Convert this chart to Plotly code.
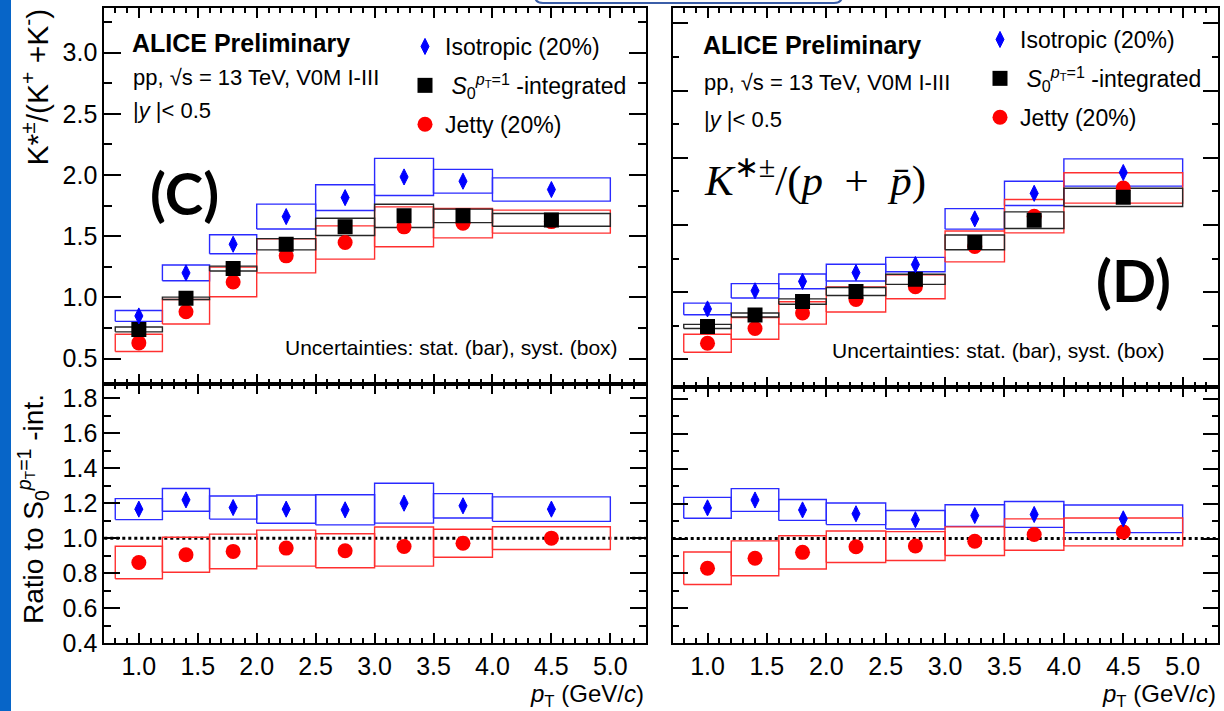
import plotly.graph_objects as go

W, H = 1224, 711

# transverse-momentum bins (GeV/c)
pt = [1.0, 1.4, 1.8, 2.25, 2.75, 3.25, 3.75, 4.5]
pt_lo = [0.8, 1.2, 1.6, 2.0, 2.5, 3.0, 3.5, 4.0]
pt_hi = [1.2, 1.6, 2.0, 2.5, 3.0, 3.5, 4.0, 5.0]

# ---- panel (C): K*±/(K+ + K-) ----
c_iso = [0.848, 1.200, 1.434, 1.660, 1.815, 1.984, 1.949, 1.881]
c_iso_syst = [0.044, 0.064, 0.078, 0.102, 0.105, 0.152, 0.097, 0.095]
c_iso_stat = [0.010, 0.012, 0.013, 0.015, 0.018, 0.022, 0.025, 0.022]
c_int = [0.738, 0.992, 1.235, 1.434, 1.576, 1.666, 1.666, 1.633]
c_int_syst = [0.020, 0.010, 0.020, 0.046, 0.070, 0.095, 0.055, 0.052]
c_int_stat = [0.004, 0.005, 0.006, 0.007, 0.009, 0.011, 0.013, 0.012]
c_jet = [0.628, 0.882, 1.126, 1.339, 1.448, 1.576, 1.606, 1.619]
c_jet_syst = [0.071, 0.100, 0.121, 0.139, 0.136, 0.163, 0.120, 0.094]
c_jet_stat = [0.009, 0.011, 0.012, 0.014, 0.017, 0.021, 0.024, 0.021]

c_iso_ratio = [1.166, 1.219, 1.175, 1.166, 1.162, 1.200, 1.185, 1.166]
c_iso_ratio_syst = [0.060, 0.065, 0.066, 0.081, 0.086, 0.114, 0.070, 0.070]
c_iso_ratio_stat = [0.012, 0.012, 0.011, 0.011, 0.012, 0.013, 0.015, 0.014]
c_jet_ratio = [0.861, 0.905, 0.924, 0.943, 0.928, 0.952, 0.971, 1.000]
c_jet_ratio_syst = [0.093, 0.100, 0.099, 0.103, 0.097, 0.112, 0.080, 0.065]
c_jet_ratio_stat = [0.012, 0.012, 0.011, 0.011, 0.012, 0.013, 0.015, 0.014]

# ---- panel (D): K*±/(p + pbar) ----
d_iso = [0.175, 0.202, 0.216, 0.229, 0.241, 0.309, 0.347, 0.378]
d_iso_syst = [0.0087, 0.0107, 0.0110, 0.0124, 0.0107, 0.0153, 0.0180, 0.0203]
d_iso_stat = [0.002, 0.002, 0.002, 0.003, 0.003, 0.004, 0.004, 0.004]
d_int = [0.149, 0.166, 0.186, 0.201, 0.219, 0.274, 0.307, 0.341]
d_int_syst = [0.003, 0.003, 0.004, 0.006, 0.0075, 0.0109, 0.0124, 0.0136]
d_int_stat = [0.001, 0.001, 0.001, 0.0015, 0.0015, 0.002, 0.002, 0.002]
d_jet = [0.124, 0.146, 0.169, 0.189, 0.208, 0.268, 0.313, 0.355]
d_jet_syst = [0.0134, 0.0160, 0.0166, 0.0186, 0.0179, 0.0230, 0.0248, 0.0226]
d_jet_stat = [0.002, 0.002, 0.002, 0.003, 0.003, 0.004, 0.004, 0.004]

d_iso_ratio = [1.176, 1.221, 1.164, 1.142, 1.108, 1.132, 1.138, 1.113]
d_iso_ratio_syst = [0.060, 0.065, 0.060, 0.062, 0.053, 0.062, 0.074, 0.079]
d_iso_ratio_stat = [0.012, 0.012, 0.011, 0.011, 0.012, 0.013, 0.015, 0.014]
d_jet_ratio = [0.830, 0.887, 0.921, 0.953, 0.957, 0.985, 1.023, 1.038]
d_jet_ratio_syst = [0.093, 0.100, 0.095, 0.090, 0.083, 0.082, 0.090, 0.080]
d_jet_ratio_stat = [0.012, 0.012, 0.011, 0.011, 0.012, 0.013, 0.015, 0.014]

LBL_ISO = "Isotropic (20%)"
LBL_INT = " <i>S</i><sub>0</sub><sup><i>p</i><sub>T</sub>=1</sup> -integrated"
LBL_JET = "Jetty (20%)"

BLUE, RED, BLACK = "#0000ff", "#ff0000", "#000000"
SANS = "Liberation Sans, Arial, Helvetica, sans-serif"


def px(x):
    return x / W


def py(y):
    return 1 - y / H


def box_path(lo, hi, val, err):
    xs, ys = [], []
    for a, b, v, e in zip(lo, hi, val, err):
        xs += [a, b, b, a, a, None]
        ys += [v - e, v - e, v + e, v + e, v - e, None]
    return xs, ys


fig = go.Figure()

SYMBOLS = {
    "circle": dict(symbol="circle", size=15, line=dict(width=0)),
    "square": dict(symbol="square", size=15, line=dict(width=0)),
    "diamond": dict(symbol="diamond-tall", size=11.5, line=dict(width=1)),
}


def add_boxes(val, err, color, xa, ya):
    xs, ys = box_path(pt_lo, pt_hi, val, err)
    fig.add_trace(go.Scatter(x=xs, y=ys, mode="lines", xaxis=xa, yaxis=ya,
                             line=dict(color=color, width=1.4),
                             hoverinfo="skip", showlegend=False))


def add_points(val, stat, color, kind, xa, ya, name=None, legend=None, rank=None):
    m = dict(SYMBOLS[kind])
    m["color"] = color
    m["line"] = dict(m["line"], color=color)
    fig.add_trace(go.Scatter(
        x=pt, y=val, mode="markers", xaxis=xa, yaxis=ya, marker=m,
        error_y=dict(type="data", array=stat, color=color, thickness=2, width=0),
        name=name, showlegend=name is not None,
        legend=legend, legendrank=rank, legendgroup=(legend or "") + (name or ""),
    ))


def upper_panel(iso, iso_s, iso_st, itg, itg_s, itg_st, jet, jet_s, jet_st, xa, ya, legend):
    add_boxes(iso, iso_s, "#2a2aff", xa, ya)
    add_boxes(jet, jet_s, "#ff3030", xa, ya)
    add_boxes(itg, itg_s, "#262626", xa, ya)
    add_points(jet, jet_st, RED, "circle", xa, ya, LBL_JET, legend, 3)
    add_points(itg, itg_st, BLACK, "square", xa, ya, LBL_INT, legend, 2)
    add_points(iso, iso_st, BLUE, "diamond", xa, ya, LBL_ISO, legend, 1)


def lower_panel(iso, iso_s, iso_st, jet, jet_s, jet_st, xa, ya):
    add_boxes(iso, iso_s, "#2a2aff", xa, ya)
    add_boxes(jet, jet_s, "#ff3030", xa, ya)
    add_points(jet, jet_st, RED, "circle", xa, ya)
    add_points(iso, iso_st, BLUE, "diamond", xa, ya)


upper_panel(c_iso, c_iso_syst, c_iso_stat, c_int, c_int_syst, c_int_stat,
            c_jet, c_jet_syst, c_jet_stat, "x", "y", "legend")
lower_panel(c_iso_ratio, c_iso_ratio_syst, c_iso_ratio_stat,
            c_jet_ratio, c_jet_ratio_syst, c_jet_ratio_stat, "x2", "y2")
upper_panel(d_iso, d_iso_syst, d_iso_stat, d_int, d_int_syst, d_int_stat,
            d_jet, d_jet_syst, d_jet_stat, "x3", "y3", "legend2")
lower_panel(d_iso_ratio, d_iso_ratio_syst, d_iso_ratio_stat,
            d_jet_ratio, d_jet_ratio_syst, d_jet_ratio_stat, "x4", "y4")


def axis(domain, rng, dtick, minor, ticklen, minorlen, labels, anchor, fmt=".1f", tick0=0):
    return dict(
        domain=domain, range=rng, anchor=anchor, autorange=False,
        showline=True, linecolor="black", linewidth=2, mirror="allticks",
        ticks="inside", tickcolor="black", tickwidth=2, ticklen=ticklen,
        tick0=tick0, dtick=dtick, tickformat=fmt,
        showticklabels=labels, showgrid=False, zeroline=False,
        tickfont=dict(family=SANS, size=25, color="black"),
        minor=dict(ticks="inside", dtick=minor, ticklen=minorlen, tickwidth=2,
                   tickcolor="black", showgrid=False),
    )


XL = [px(104.3), px(645.7)]
XR = [px(672.7), px(1218.3)]
X_RANGE = [0.707, 5.3]

layout = dict(
    width=W, height=H, autosize=False,
    margin=dict(l=0, r=0, t=0, b=0, pad=0),
    paper_bgcolor="white", plot_bgcolor="white",
    template="none",
    font=dict(family=SANS, color="black"),
    xaxis=axis(XL, X_RANGE, 0.5, 0.1, 10, 5, False, "y"),
    yaxis=axis([py(384), py(8.3)], [0.292, 3.362], 0.5, 0.25, 17, 8, True, "x"),
    xaxis2=axis(XL, X_RANGE, 0.5, 0.1, 10, 5, True, "y2"),
    yaxis2=axis([py(643), py(384)], [0.4, 1.882], 0.2, 0.1, 16, 7, True, "x2"),
    xaxis3=axis(XR, X_RANGE, 0.5, 0.1, 10, 5, False, "y3"),
    yaxis3=axis([py(386.7), py(8.3)], [0.0593, 0.6223], 0.1, 0.05, 15, 6, False, "x3"),
    xaxis4=axis(XR, X_RANGE, 0.5, 0.1, 10, 5, True, "y4"),
    yaxis4=axis([py(643.3), py(386.7)], [0.4, 1.87], 0.2, 0.1, 15, 6, False, "x4"),
    legend=dict(x=px(405), y=py(25), xanchor="left", yanchor="top",
                bgcolor="rgba(0,0,0,0)", borderwidth=0, traceorder="grouped",
                tracegroupgap=6, itemsizing="trace",
                font=dict(family=SANS, size=23, color="black")),
    legend2=dict(x=px(980), y=py(18), xanchor="left", yanchor="top",
                 bgcolor="rgba(0,0,0,0)", borderwidth=0, traceorder="grouped",
                 tracegroupgap=6, itemsizing="trace",
                 font=dict(family=SANS, size=23, color="black")),
)
fig.update_layout(**layout)


def note(text, x, y, size, xanchor="left", yanchor="middle", family=SANS, angle=0):
    fig.add_annotation(text=text, x=px(x), y=py(y), xref="paper", yref="paper",
                       xanchor=xanchor, yanchor=yanchor, showarrow=False,
                       textangle=angle, font=dict(family=family, size=size, color="black"))


# panel (C) labels
note("<b>ALICE Preliminary</b>", 130, 43, 25)
note("pp, √s = 13 TeV, V0M I-III", 131, 77, 22)
note("|<i>y</i> |< 0.5", 131, 110, 22)
note("<b>(C)</b>", 184, 192, 58, xanchor="center", family="Lato")
note("Uncertainties: stat. (bar), syst. (box)", 620, 347, 21, xanchor="right")
note("<i>p</i><sub>T</sub> (GeV/<i>c</i>)", 645.7, 695, 24, xanchor="right")
note("K*<sup>±</sup>/(K<sup>+</sup> +K<sup>-</sup>)", 36, 7, 30,
     xanchor="center", yanchor="top", angle=-90)
note("Ratio to S<sub>0</sub><sup><i>p</i><sub>T</sub>=1</sup> -int.", 33, 392, 28,
     xanchor="center", yanchor="top", angle=-90)

# panel (D) labels
note("<b>ALICE Preliminary</b>", 701, 45, 25)
note("pp, √s = 13 TeV, V0M I-III", 702, 82, 22)
note("|<i>y</i> |< 0.5", 702, 120, 22)
note("<i>K</i><sup>∗±</sup>/(<i>p</i>\u2002+\u2002<i>p̄</i>)", 702, 177, 43,
     family="Liberation Serif")
note("<b>(D)</b>", 1133, 279, 58, xanchor="center", family="Lato")
note("Uncertainties: stat. (bar), syst. (box)", 1167, 350, 21, xanchor="right")
note("<i>p</i><sub>T</sub> (GeV/<i>c</i>)", 1218.3, 695, 24, xanchor="right")

# unity reference in both ratio pads
for xa, ya in (("x2", "y2"), ("x4", "y4")):
    fig.add_shape(type="line", xref=f"{xa} domain", yref=ya, x0=0, x1=1, y0=1, y1=1,
                  line=dict(color="black", width=3, dash="dot"), layer="below")

# slide frame elements
fig.add_shape(type="rect", xref="paper", yref="paper", x0=0, x1=px(11), y0=0, y1=1,
              fillcolor="#0765c8", line=dict(width=0), layer="above")
fig.add_shape(type="path", xref="paper", yref="paper",
              path=(f"M {px(535)},{py(-20)} L {px(535)},{py(-4)} "
                    f"Q {px(535)},{py(3)} {px(543)},{py(3)} L {px(834)},{py(3)} "
                    f"Q {px(842)},{py(3)} {px(842)},{py(-4)} L {px(842)},{py(-20)} Z"),
              fillcolor="white", line=dict(color="#3b5ea8", width=2), layer="above")

fig.write_html("out.html", post_script="document.body.style.margin='0';")
